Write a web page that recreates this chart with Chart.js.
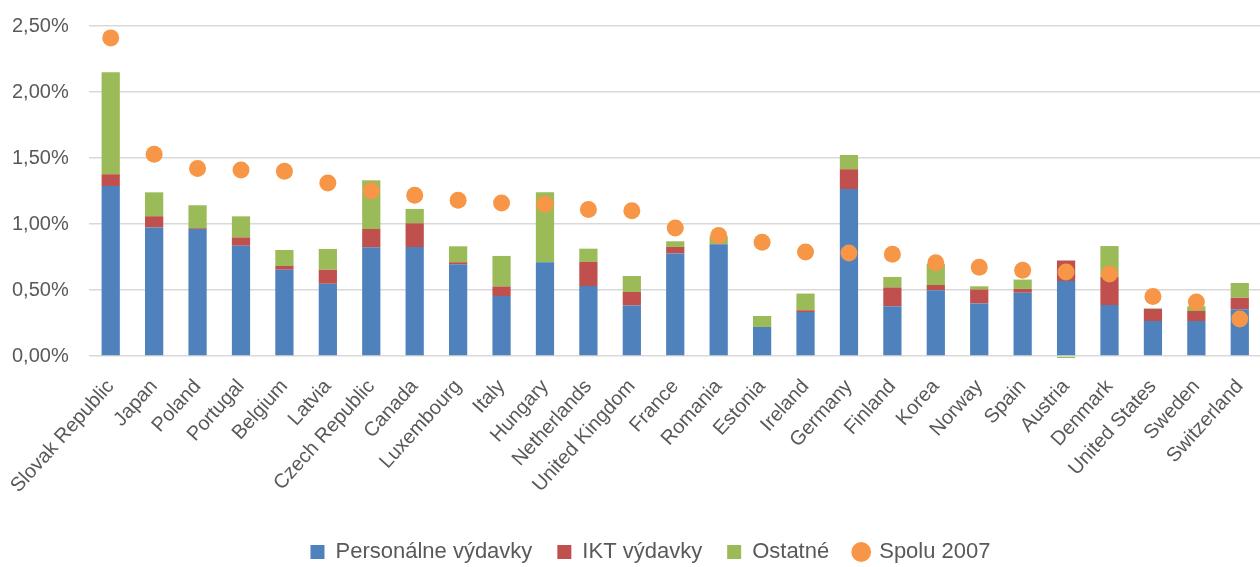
<!DOCTYPE html>
<html>
<head>
<meta charset="utf-8">
<script src="https://cdn.jsdelivr.net/npm/chart.js@4/dist/chart.umd.min.js"></script>
<style>
  html, body { margin: 0; padding: 0; background: #fff; overflow: hidden; }
  #wrap { width: 1270px; height: 567px; }
</style>
</head>
<body>
<div id="wrap"><canvas id="myChart"></canvas></div>
<script>
const countries = [
  "Slovak Republic", "Japan", "Poland", "Portugal", "Belgium", "Latvia",
  "Czech Republic", "Canada", "Luxembourg", "Italy", "Hungary", "Netherlands",
  "United Kingdom", "France", "Romania", "Estonia", "Ireland", "Germany",
  "Finland", "Korea", "Norway", "Spain", "Austria", "Denmark",
  "United States", "Sweden", "Switzerland",
];

// % of GDP
const personalne = [1.288, 0.973, 0.962, 0.836, 0.654, 0.548, 0.823, 0.826, 0.695, 0.455, 0.71, 0.53, 0.382, 0.776, 0.846, 0.22, 0.333, 1.265, 0.377, 0.498, 0.397, 0.48, 0.568, 0.386, 0.265, 0.265, 0.354];
const ikt = [0.089, 0.085, 0.005, 0.061, 0.028, 0.106, 0.139, 0.18, 0.015, 0.071, 0, 0.182, 0.103, 0.05, 0, 0, 0.013, 0.149, 0.141, 0.04, 0.106, 0.028, 0.155, 0.213, 0.091, 0.076, 0.088];
const ostatne = [0.772, 0.182, 0.175, 0.161, 0.121, 0.157, 0.369, 0.108, 0.121, 0.232, 0.53, 0.101, 0.121, 0.043, 0.06, 0.083, 0.127, 0.109, 0.081, 0.16, 0.025, 0.071, -0.015, 0.234, 0.005, 0.036, 0.111];
const spolu2007 = [2.41, 1.528, 1.42, 1.409, 1.4, 1.31, 1.25, 1.217, 1.18, 1.159, 1.149, 1.109, 1.101, 0.97, 0.912, 0.861, 0.788, 0.78, 0.77, 0.707, 0.672, 0.649, 0.636, 0.621, 0.45, 0.409, 0.28];

const yTicks = [0, 0.5, 1, 1.5, 2, 2.5];

const font = "'Liberation Sans', Arial, sans-serif";
const grey = "#595959";

// move the legend a bit right and down, like the original
const legendShift = {
  id: "legendShift",
  afterLayout(chart) {
    const lg = chart.legend;
    lg.left += 18;
    lg.right += 2;
    lg.top += 6;
    lg.bottom += 6;
  },
};

new Chart(document.getElementById("myChart"), {
  data: {
    labels: countries,
    datasets: [
      {
        type: "line",
        label: "Spolu 2007",
        data: spolu2007,
        showLine: false,
        pointRadius: 8.5,
        pointHoverRadius: 8.5,
        pointStyle: "circle",
        backgroundColor: "#F79646",
        borderColor: "#F79646",
        borderWidth: 0,
        stack: "total",
        order: 0,
      },
      {
        type: "bar",
        label: "Personálne výdavky",
        data: personalne,
        backgroundColor: "#4F81BD",
        pointStyle: "rect",
        stack: "s",
        order: 1,
      },
      {
        type: "bar",
        label: "IKT výdavky",
        data: ikt,
        backgroundColor: "#C0504D",
        pointStyle: "rect",
        stack: "s",
        order: 1,
      },
      {
        type: "bar",
        label: "Ostatné",
        data: ostatne,
        backgroundColor: "#9BBB59",
        pointStyle: "rect",
        stack: "s",
        order: 1,
        clip: false,
      },
    ],
  },
  options: {
    responsive: true,
    maintainAspectRatio: false,
    animation: false,
    datasets: {
      bar: {
        barPercentage: 0.42,
        categoryPercentage: 1,
      },
    },
    layout: {
      padding: { top: 26, right: 1, left: 12, bottom: 0 },
    },
    plugins: {
      title: { display: false },
      tooltip: { enabled: false },
      legend: {
        position: "bottom",
        labels: {
          usePointStyle: true,
          boxWidth: 14,
          boxHeight: 14,
          padding: 25,
          color: grey,
          font: { family: font, size: 22 },
          sort: (a, b) => (a.datasetIndex === 0 ? 1 : b.datasetIndex === 0 ? -1 : a.datasetIndex - b.datasetIndex),
        },
      },
    },
    scales: {
      x: {
        stacked: true,
        grid: { display: false },
        border: { display: false },
        ticks: {
          autoSkip: false,
          maxRotation: 48,
          minRotation: 48,
          padding: 11,
          color: grey,
          font: { family: font, size: 20 },
        },
        afterFit(scale) {
          scale.height = 154;
        },
      },
      y: {
        stacked: true,
        min: 0,
        max: 2.5,
        afterBuildTicks(scale) {
          scale.ticks = yTicks.map((v) => ({ value: v }));
        },
        afterFit(scale) {
          scale.width = 77;
        },
        grid: { color: "#D9D9D9", lineWidth: 1.5, drawTicks: false },
        border: { display: false },
        ticks: {
          padding: 0,
          crossAlign: "far",
          color: grey,
          font: { family: font, size: 20 },
          callback: (v) => v.toFixed(2).replace(".", ",") + "%",
        },
      },
    },
  },
  plugins: [legendShift],
});
</script>
</body>
</html>
